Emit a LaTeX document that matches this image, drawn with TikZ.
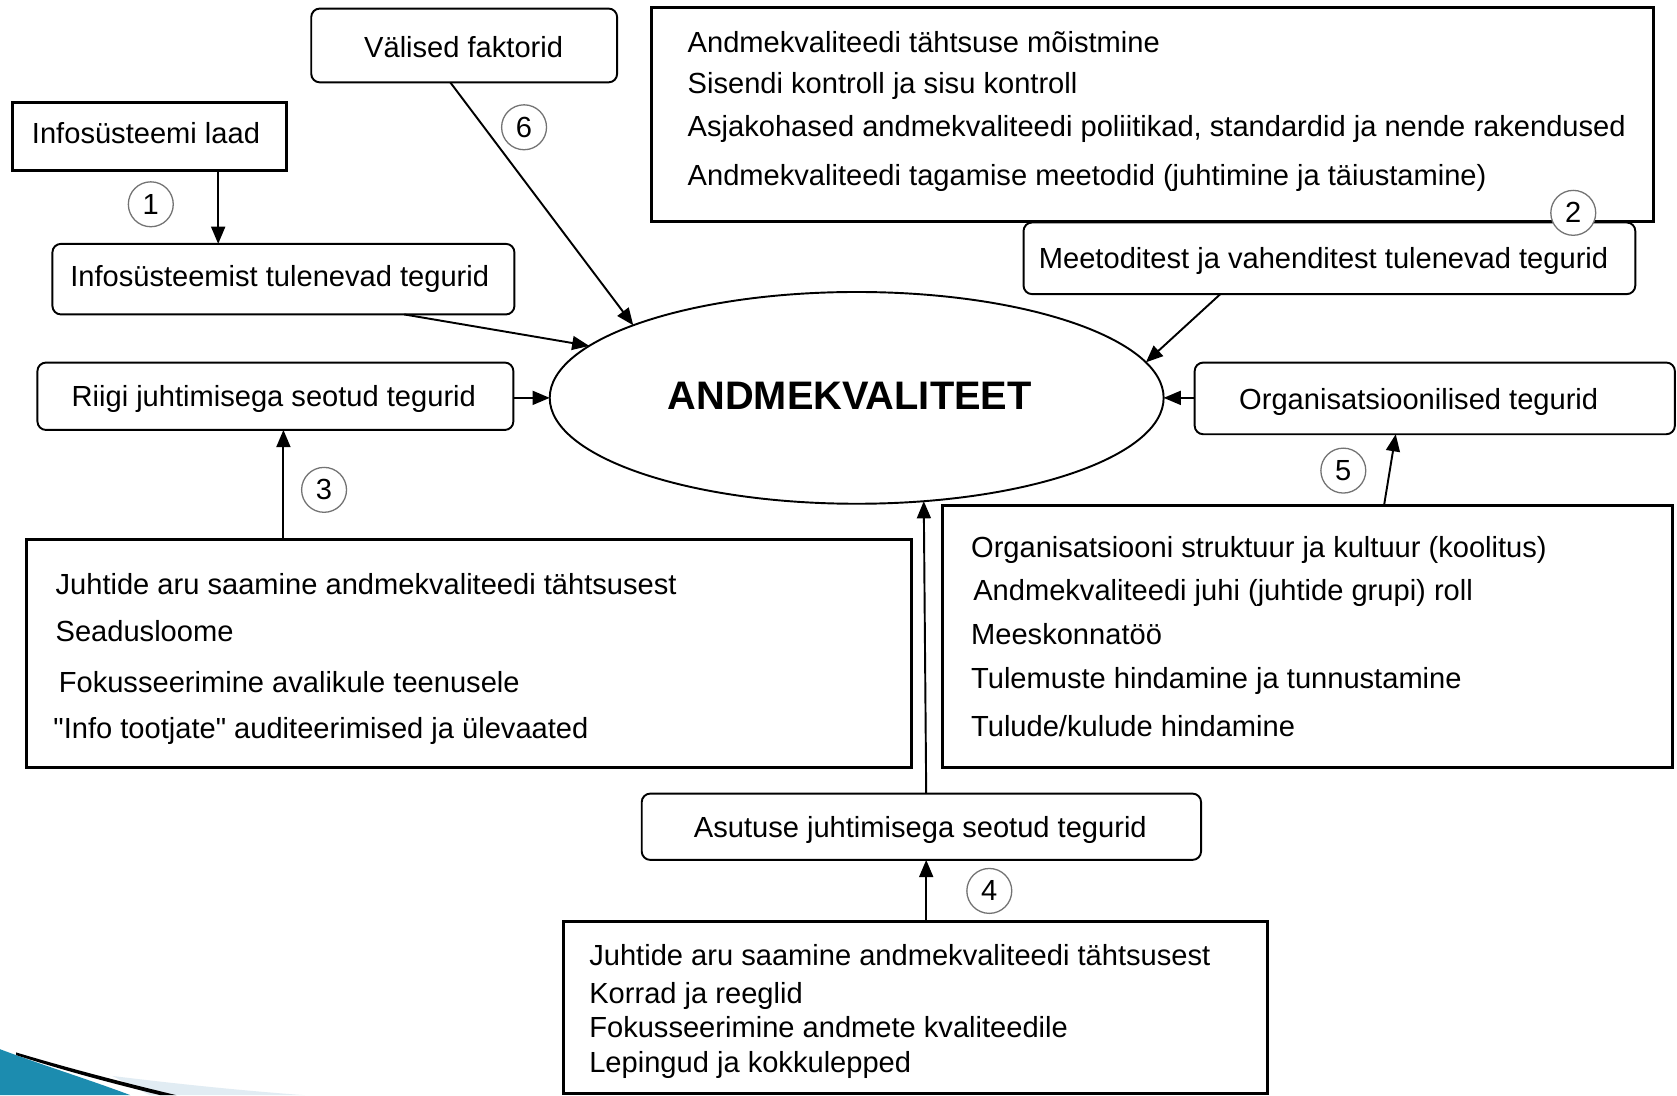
\documentclass[tikz,border=0pt]{standalone}
\usepackage{fontspec}
\setmainfont{Liberation Sans}[Ligatures=TeXOff]
\usetikzlibrary{arrows.meta,shapes.geometric,calc}
\newcommand\fsz{\fontsize{13.6pt}{16pt}\selectfont}
\begin{document}
\begin{tikzpicture}[x=0.5pt,y=-0.5pt,
  sbox/.style={draw, line width=1.4pt, inner sep=0pt, outer sep=0pt},
  rbox/.style={draw, line width=0.9pt, rounded corners=4pt, inner sep=0pt, outer sep=0pt},
  txt/.style={inner sep=0pt, outer sep=0pt, text height=9.8pt, text depth=0pt, font=\fsz},
  ltxt/.style={txt, anchor=west},
  num/.style={circle, draw=black!55, line width=0.6pt, fill=white, minimum size=21pt, inner sep=0pt, font=\fsz},
  arr/.style={line width=0.9pt, -{Triangle[length=8pt,width=6.5pt]}}]
\useasboundingbox (0,0) rectangle (1568,1024);
\clip (0,0) rectangle (1568,1024);
\fill[white] (0,0) rectangle (1568,1024);

% decorative swoosh
\fill[color={rgb,255:red,225;green,236;blue,243}] (105,1006) .. controls (170,1014) and (230,1020) .. (285,1024) -- (140,1024) -- cycle;
\fill[color={rgb,255:red,28;green,140;blue,175}] (0,981) .. controls (40,996) and (85,1010) .. (122,1024) -- (0,1024) -- cycle;
\fill[black] (15,984) .. controls (65,999) and (115,1012) .. (165,1024) -- (150,1024) .. controls (105,1013) and (60,1001) .. (15,986.5) -- cycle;

% boxes
\node[sbox, minimum width=128pt, minimum height=31.5pt] (laad) at (140,127.5) {};
\node[rbox, minimum width=143pt, minimum height=34.5pt] (val) at (434,42.5) {};
\node[sbox, minimum width=468.5pt, minimum height=100pt] (tb) at (1077.5,107) {};
\node[rbox, minimum width=286pt, minimum height=33.5pt] (meet) at (1243,241.5) {};
\node[rbox, minimum width=216pt, minimum height=33pt] (info) at (265,261) {};
\node[rbox, minimum width=222.5pt, minimum height=31.5pt] (rii) at (257.5,370.5) {};
\node[rbox, minimum width=224.5pt, minimum height=33.5pt] (org) at (1341.5,372.5) {};
\node[sbox, minimum width=413.5pt, minimum height=107pt] (lb) at (438.5,611) {};
\node[sbox, minimum width=341.5pt, minimum height=122.5pt] (rb) at (1222.5,595.5) {};
\node[rbox, minimum width=261.5pt, minimum height=31pt] (asu) at (861.5,773) {};
\node[sbox, minimum width=329pt, minimum height=80pt] (bb) at (856,942) {};
\node[ellipse, draw, line width=0.9pt, minimum width=287pt, minimum height=99pt, inner sep=0pt, outer sep=0pt] (ell) at (801,372) {};

% single-line texts
\node[txt] (tlaad) at (136.5,124) {Infosüsteemi laad};
\node[txt] (tval) at (433.5,44) {Välised faktorid};
\node[txt] (tmeet) at (1237.5,241) {Meetoditest ja vahenditest tulenevad tegurid};
\node[txt] (tinfo) at (261.5,258) {Infosüsteemist tulenevad tegurid};
\node[txt] (trii) at (256,370) {Riigi juhtimisega seotud tegurid};
\node[txt] (torg) at (1326.5,373) {Organisatsioonilised tegurid};
\node[txt] (tasu) at (860.5,773) {Asutuse juhtimisega seotud tegurid};
\node[inner sep=0pt, outer sep=0pt, text height=13.3pt, text depth=0pt, font=\fontsize{18.6pt}{22pt}\selectfont\bfseries] (tell) at (794.5,370) {ANDMEKVALITEET};

% top right box lines
\node[ltxt] (tb1) at (643,39) {Andmekvaliteedi tähtsuse mõistmine};
\node[ltxt] (tb2) at (643,78) {Sisendi kontroll ja sisu kontroll};
\node[ltxt] (tb3) at (643,118) {Asjakohased andmekvaliteedi poliitikad, standardid ja nende rakendused};
\node[ltxt] (tb4) at (643,164) {Andmekvaliteedi tagamise meetodid (juhtimine ja täiustamine)};

% left box lines
\node[ltxt] (lb1) at (52,546) {Juhtide aru saamine andmekvaliteedi tähtsusest};
\node[ltxt] (lb2) at (52,590) {Seadusloome};
\node[ltxt] (lb3) at (55,638) {Fokusseerimine avalikule teenusele};
\node[ltxt] (lb4) at (50,681) {"Info tootjate" auditeerimised ja ülevaated};

% right box lines
\node[ltxt] (rb1) at (908,511) {Organisatsiooni struktuur ja kultuur (koolitus)};
\node[ltxt] (rb2) at (910,552) {Andmekvaliteedi juhi (juhtide grupi) roll};
\node[ltxt] (rb3) at (908,593) {Meeskonnatöö};
\node[ltxt] (rb4) at (908,634) {Tulemuste hindamine ja tunnustamine};
\node[ltxt] (rb5) at (908,679) {Tulude/kulude hindamine};

% bottom box lines
\node[ltxt] (bb1) at (551,893) {Juhtide aru saamine andmekvaliteedi tähtsusest};
\node[ltxt] (bb2) at (551,928) {Korrad ja reeglid};
\node[ltxt] (bb3) at (551,960) {Fokusseerimine andmete kvaliteedile};
\node[ltxt] (bb4) at (551,993) {Lepingud ja kokkulepped};

% connectors
\coordinate (a1) at ($(laad.south)+(64,0)$);
\draw[arr] (a1) -- (a1 |- info.north);
\draw[arr] ($(val.south)+(-13,0)$) -- (ell.162.4);
\draw[arr] ($(info.south)+(113,0)$) -- (ell.169.7);
\draw[arr] ($(meet.south)+(-102,0)$) -- (ell.7.5);
\draw[arr] (rii.east |- ell.west) -- (ell.west);
\draw[arr] (org.west |- ell.east) -- (ell.east);
\coordinate (a3) at ($(lb.north)+(-173.5,0)$);
\draw[arr] (a3) -- (a3 |- rii.south);
\draw[arr] ($(rb.north)+(71.5,0)$) -- ($(org.south)+(-36.5,0)$);
\coordinate (a4) at ($(asu.north)+(4.5,0)$);
\draw[arr] (a4) -- (ell.303.7);
\coordinate (a5) at ($(bb.north)+(10,0)$);
\draw[arr] (a5) -- (a5 |- asu.south);

% number circles
\node[num] (n1) at (141,191) {1};
\node[num] (n2) at (1471,199) {2};
\node[num] (n3) at (303,458) {3};
\node[num] (n4) at (925,833) {4};
\node[num] (n5) at (1256,440) {5};
\node[num] (n6) at (490,119) {6};
\end{tikzpicture}
\end{document}
